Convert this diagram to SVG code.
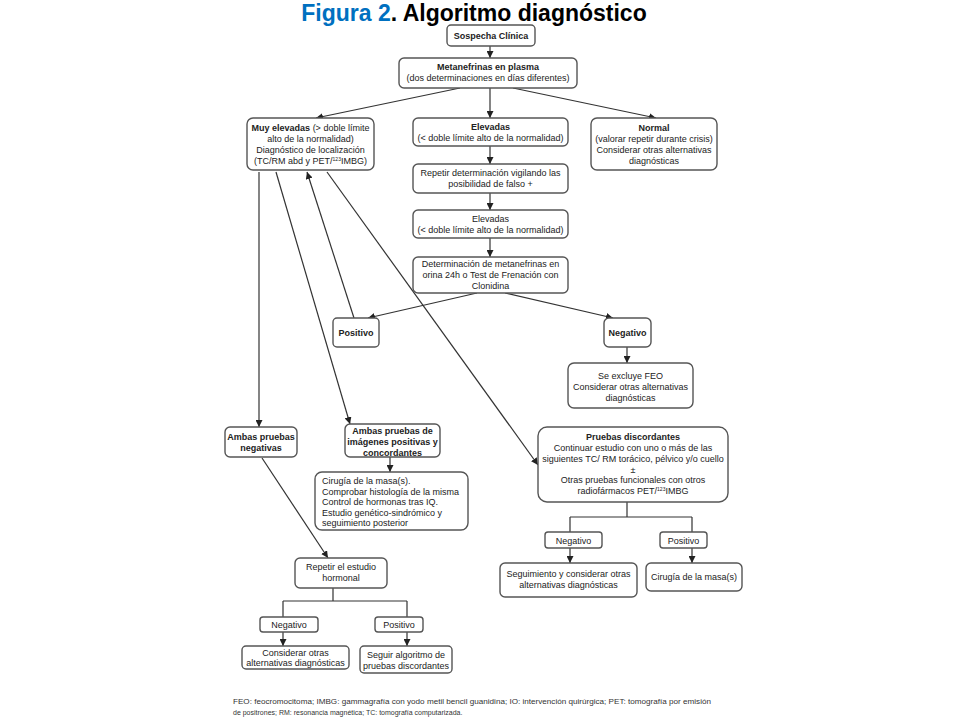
<svg xmlns="http://www.w3.org/2000/svg" width="960" height="720" viewBox="0 0 960 720">
<style>
.b{fill:#fff;stroke:#555;stroke-width:1.4}
.t{font-family:"Liberation Sans",Arial,sans-serif;font-size:9px;fill:#222;text-anchor:middle}
.l{text-anchor:start}
.bd{font-weight:bold}
.c{fill:none;stroke:#333;stroke-width:1.2}
.f{font-family:"Liberation Sans",Arial,sans-serif;font-size:7px;fill:#333}
</style>
<defs>
<marker id="a" markerUnits="userSpaceOnUse" markerWidth="8" markerHeight="7" refX="7" refY="3.5" orient="auto"><path d="M0,0 L7,3.5 L0,7 z" fill="#222"/></marker>
</defs>
<rect width="960" height="720" fill="#fff"/>
<text x="474" y="21" style="font-family:'Liberation Sans',Arial,sans-serif;font-size:23px;font-weight:bold" text-anchor="middle"><tspan fill="#0070C0">Figura 2</tspan><tspan fill="#000">. Algoritmo diagnóstico</tspan></text>

<g id="connectors">
<path class="c" d="M490,46 V58" marker-end="url(#a)"/>
<path class="c" d="M460,88 L316,118" marker-end="url(#a)"/>
<path class="c" d="M490,88 V118" marker-end="url(#a)"/>
<path class="c" d="M513,88 L656,118" marker-end="url(#a)"/>
<path class="c" d="M490,146 V164" marker-end="url(#a)"/>
<path class="c" d="M490,193 V210" marker-end="url(#a)"/>
<path class="c" d="M490,238 V257" marker-end="url(#a)"/>
<path class="c" d="M477,293 L368,318" marker-end="url(#a)"/>
<path class="c" d="M505,293 L613,318" marker-end="url(#a)"/>
<path class="c" d="M627,347 V363" marker-end="url(#a)"/>
<path class="c" d="M259,172 V427" marker-end="url(#a)"/>
<path class="c" d="M276,172 L350,424" marker-end="url(#a)"/>
<path class="c" d="M354,318 L307,172" marker-end="url(#a)"/>
<path class="c" d="M327,172 L538,465" marker-end="url(#a)"/>
<path class="c" d="M390,457 V472" marker-end="url(#a)"/>
<path class="c" d="M262,458 L328,558" marker-end="url(#a)"/>
<path class="c" d="M333,588 V601 M283,601 H407 M283,601 V617 M407,601 V617"/>
<path class="c" d="M283,632 V646" marker-end="url(#a)"/>
<path class="c" d="M407,632 V646" marker-end="url(#a)"/>
<path class="c" d="M627,502 V517 M570,517 H692 M570,517 V532 M692,517 V532"/>
<path class="c" d="M570,548 V563" marker-end="url(#a)"/>
<path class="c" d="M692,548 V563" marker-end="url(#a)"/>
</g>

<g id="sospecha"><rect class="b" x="447" y="25" width="88" height="21" rx="4"/><text class="t bd" x="491" y="39">Sospecha Clínica</text></g>
<g id="metanefrinas"><rect class="b" x="399" y="58" width="178" height="30" rx="5"/><text class="t" x="488" y="70"><tspan class="bd">Metanefrinas en plasma</tspan><tspan x="488" dy="11">(dos determinaciones en días diferentes)</tspan></text></g>
<g id="muyelevadas"><rect class="b" x="247" y="118" width="127" height="52" rx="6"/><text class="t" x="310.5" y="131"><tspan class="bd">Muy elevadas</tspan> (&gt; doble límite<tspan x="310.5" dy="11">alto de la normalidad)</tspan><tspan x="310.5" dy="11">Diagnóstico de localización</tspan><tspan x="310.5" dy="11">(TC/RM abd  y PET/<tspan font-size="5" dy="-3">123</tspan><tspan dy="3">IMBG)</tspan></tspan></text></g>
<g id="elevadas1"><rect class="b" x="413" y="118" width="155" height="28" rx="5"/><text class="t" x="490.5" y="130"><tspan class="bd">Elevadas</tspan><tspan x="490.5" dy="11">(&lt; doble límite alto de la normalidad)</tspan></text></g>
<g id="normal"><rect class="b" x="591" y="118" width="126" height="52" rx="6"/><text class="t" x="654" y="131"><tspan class="bd">Normal</tspan><tspan x="654" dy="11">(valorar repetir durante crisis)</tspan><tspan x="654" dy="11">Considerar otras alternativas</tspan><tspan x="654" dy="11">diagnósticas</tspan></text></g>
<g id="repetir"><rect class="b" x="413" y="164" width="155" height="29" rx="5"/><text class="t" x="490.5" y="176">Repetir determinación vigilando las<tspan x="490.5" dy="11">posibilidad de falso +</tspan></text></g>
<g id="elevadas2"><rect class="b" x="413" y="210" width="155" height="28" rx="5"/><text class="t" x="490.5" y="222">Elevadas<tspan x="490.5" dy="11">(&lt; doble límite alto de la normalidad)</tspan></text></g>
<g id="determinacion"><rect class="b" x="413" y="257" width="155" height="36" rx="5"/><text class="t" x="490.5" y="267">Determinación de metanefrinas en<tspan x="490.5" dy="11">orina 24h o Test de Frenación con</tspan><tspan x="490.5" dy="11">Clonidina</tspan></text></g>
<g id="positivo1"><rect class="b" x="333" y="318" width="46" height="29" rx="4"/><text class="t bd" x="356" y="336">Positivo</text></g>
<g id="negativo1"><rect class="b" x="604" y="318" width="47" height="29" rx="5"/><text class="t bd" x="627.5" y="336">Negativo</text></g>
<g id="seexcluye"><rect class="b" x="568" y="363" width="125" height="45" rx="6"/><text class="t" x="630.5" y="379">Se excluye FEO<tspan x="630.5" dy="11">Considerar otras alternativas</tspan><tspan x="630.5" dy="11">diagnósticas</tspan></text></g>
<g id="ambasneg"><rect class="b" x="225" y="427" width="72" height="30" rx="5"/><text class="t bd" x="261" y="440">Ambas pruebas<tspan x="261" dy="11">negativas</tspan></text></g>
<g id="ambaspos"><rect class="b" x="345" y="424" width="95" height="33" rx="5"/><text class="t bd" x="392.5" y="434">Ambas pruebas de<tspan x="392.5" dy="11">imágenes positivas y</tspan><tspan x="392.5" dy="11">concordantes</tspan></text></g>
<g id="cirugia1"><rect class="b" x="315" y="472" width="153" height="58" rx="7"/><text class="t l" x="322" y="484">Cirugía de la masa(s).<tspan x="322" dy="10.5">Comprobar histología de la misma</tspan><tspan x="322" dy="10.5">Control de hormonas tras IQ.</tspan><tspan x="322" dy="10.5">Estudio genético-sindrómico y</tspan><tspan x="322" dy="10.5">seguimiento posterior</tspan></text></g>
<g id="discordantes"><rect class="b" x="538" y="427" width="190" height="75" rx="9"/><text class="t" x="633" y="440"><tspan class="bd">Pruebas discordantes</tspan><tspan x="633" dy="11">Continuar estudio con uno o más de las</tspan><tspan x="633" dy="11">siguientes TC/ RM torácico, pélvico y/o cuello</tspan><tspan x="633" dy="10.5">±</tspan><tspan x="633" dy="10.5">Otras pruebas funcionales con otros</tspan><tspan x="633" dy="11">radiofármacos PET/<tspan font-size="5" dy="-3">123</tspan><tspan dy="3">IMBG</tspan></tspan></text></g>
<g id="negativo2"><rect class="b" x="545" y="532" width="57" height="16" rx="3"/><text class="t" x="573.5" y="543.5">Negativo</text></g>
<g id="positivo2"><rect class="b" x="660" y="532" width="47" height="16" rx="3"/><text class="t" x="683.5" y="543.5">Positivo</text></g>
<g id="seguimiento"><rect class="b" x="500" y="563" width="137" height="34" rx="5"/><text class="t" x="568.5" y="577">Seguimiento y considerar otras<tspan x="568.5" dy="11">alternativas diagnósticas</tspan></text></g>
<g id="cirugia2"><rect class="b" x="646" y="563" width="96" height="28" rx="5"/><text class="t" x="694" y="580">Cirugía de la masa(s)</text></g>
<g id="repetirhormonal"><rect class="b" x="295" y="558" width="92" height="30" rx="5"/><text class="t" x="341" y="570">Repetir el estudio<tspan x="341" dy="11">hormonal</tspan></text></g>
<g id="negativo3"><rect class="b" x="260" y="617" width="58" height="15" rx="3"/><text class="t" x="289" y="628">Negativo</text></g>
<g id="positivo3"><rect class="b" x="375" y="617" width="48" height="15" rx="3"/><text class="t" x="399" y="628">Positivo</text></g>
<g id="considerar"><rect class="b" x="242" y="646" width="107" height="23" rx="4"/><text class="t" x="295.5" y="656">Considerar otras<tspan x="295.5" dy="10">alternativas diagnósticas</tspan></text></g>
<g id="seguir"><rect class="b" x="360" y="646" width="92" height="27" rx="4"/><text class="t" x="406" y="658">Seguir algoritmo de<tspan x="406" dy="10.5">pruebas discordantes</tspan></text></g>

<text class="f" x="233" y="704" textLength="478" lengthAdjust="spacingAndGlyphs">FEO: feocromocitoma; IMBG: gammagrafía con yodo metil bencil guanidina; IO: intervención quirúrgica; PET: tomografía por emisión</text>
<text class="f" x="233" y="715">de positrones; RM: resonancia magnética; TC: tomografía computarizada.</text>
</svg>
